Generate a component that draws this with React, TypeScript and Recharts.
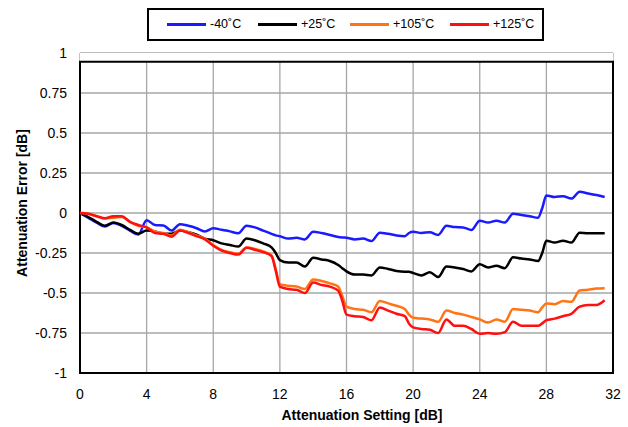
import React from "react";
import {
  LineChart,
  Line,
  XAxis,
  YAxis,
  CartesianGrid,
  Legend,
  ReferenceArea,
  Label,
} from "recharts";

const settings = [
  0, 0.5, 1, 1.5, 2, 2.5, 3, 3.5, 4, 4.5, 5, 5.5, 6, 6.5, 7, 7.5, 8, 8.5, 9, 9.5,
  10, 10.5, 11, 11.5, 11.75, 12, 12.5, 13, 13.5, 14, 14.5, 15, 15.5, 15.75, 16,
  16.5, 17, 17.5, 18, 18.5, 19, 19.5, 19.75, 20, 20.5, 21, 21.5, 22, 22.5, 23,
  23.5, 24, 24.5, 25, 25.5, 26, 26.5, 27, 27.5, 27.75, 28, 28.5, 29, 29.5, 30,
  30.5, 31, 31.5,
];

const errM40 = [
  0, -0.03, -0.06, -0.085, -0.062, -0.08, -0.11, -0.135, -0.045, -0.075, -0.078,
  -0.11, -0.07, -0.08, -0.095, -0.115, -0.095, -0.105, -0.115, -0.127, -0.08,
  -0.09, -0.11, -0.13, -0.14, -0.145, -0.16, -0.155, -0.165, -0.117, -0.125,
  -0.137, -0.15, -0.153, -0.155, -0.165, -0.16, -0.175, -0.123, -0.13, -0.14,
  -0.145, -0.125, -0.117, -0.125, -0.12, -0.137, -0.08, -0.088, -0.09, -0.106,
  -0.048, -0.06, -0.048, -0.06, -0.005, -0.012, -0.02, -0.03, 0.03, 0.11, 0.1,
  0.105, 0.09, 0.133, 0.122, 0.112, 0.1,
];

const errP25 = [
  0, -0.025, -0.055, -0.08, -0.06, -0.075, -0.105, -0.13, -0.11, -0.115, -0.13,
  -0.13, -0.11, -0.12, -0.135, -0.16, -0.17, -0.19, -0.2, -0.21, -0.16, -0.17,
  -0.19, -0.215, -0.25, -0.295, -0.31, -0.31, -0.335, -0.28, -0.29, -0.3,
  -0.325, -0.345, -0.365, -0.385, -0.385, -0.39, -0.34, -0.35, -0.362, -0.367,
  -0.367, -0.375, -0.39, -0.37, -0.4, -0.335, -0.34, -0.35, -0.365, -0.32,
  -0.34, -0.33, -0.345, -0.277, -0.285, -0.29, -0.3, -0.25, -0.173, -0.185,
  -0.173, -0.185, -0.123, -0.127, -0.127, -0.127,
];

const errP105 = [
  0, -0.005, -0.02, -0.035, -0.03, -0.025, -0.055, -0.08, -0.09, -0.115, -0.125,
  -0.14, -0.105, -0.12, -0.14, -0.16, -0.2, -0.23, -0.245, -0.255, -0.215,
  -0.225, -0.24, -0.265, -0.35, -0.445, -0.455, -0.46, -0.475, -0.415, -0.425,
  -0.44, -0.46, -0.52, -0.585, -0.6, -0.605, -0.62, -0.55, -0.565, -0.58, -0.6,
  -0.635, -0.655, -0.66, -0.665, -0.68, -0.61, -0.625, -0.635, -0.65, -0.665,
  -0.685, -0.665, -0.68, -0.6, -0.605, -0.61, -0.62, -0.59, -0.565, -0.57,
  -0.55, -0.555, -0.485, -0.48, -0.472, -0.47,
];

const errP125 = [
  0, -0.005, -0.02, -0.033, -0.02, -0.02, -0.055, -0.075, -0.09, -0.125, -0.13,
  -0.148, -0.11, -0.125, -0.145, -0.165, -0.205, -0.235, -0.25, -0.26, -0.217,
  -0.23, -0.245, -0.27, -0.36, -0.46, -0.475, -0.48, -0.5, -0.435, -0.45, -0.46,
  -0.485, -0.55, -0.635, -0.645, -0.65, -0.67, -0.59, -0.61, -0.63, -0.645,
  -0.69, -0.715, -0.725, -0.73, -0.75, -0.665, -0.705, -0.705, -0.725, -0.755,
  -0.75, -0.755, -0.745, -0.68, -0.705, -0.705, -0.705, -0.69, -0.67, -0.66,
  -0.645, -0.63, -0.585, -0.575, -0.575, -0.545,
];

const xTicks = [0, 4, 8, 12, 16, 20, 24, 28, 32];
const yTicks = [-1, -0.75, -0.5, -0.25, 0, 0.25, 0.5, 0.75, 1];

const seriesNames = ["-40˚C", "+25˚C", "+105˚C", "+125˚C"];
const seriesKeys = ["m40", "p25", "p105", "p125"];
const seriesColors = ["#1a1aff", "#000000", "#ff7416", "#ff1010"];

const data = settings.map((s, i) => ({
  s,
  m40: errM40[i],
  p25: errP25[i],
  p105: errP105[i],
  p125: errP125[i],
}));

const FONT = "'Liberation Sans', Arial, sans-serif";

const legendX = [167, 258, 350, 450];

const renderLegend = (props: any) => {
  const payload = [...(props.payload || [])].sort(
    (a: any, b: any) => seriesNames.indexOf(a.value) - seriesNames.indexOf(b.value)
  );
  return (
    <div
      style={{
        position: "absolute",
        left: 147,
        top: 8,
        width: 393,
        height: 29,
        border: "2px solid #000",
        background: "#fff",
        fontFamily: FONT,
        fontSize: 12.5,
        color: "#000",
      }}
    >
      {payload.map((p: any, i: number) => (
        <div key={i}>
          <div
            style={{
              position: "absolute",
              left: legendX[i] - 149,
              top: 13,
              width: 39,
              height: 2.5,
              background: p.color,
            }}
          />
          <div
            style={{
              position: "absolute",
              left: legendX[i] - 149 + 43,
              top: 5,
              lineHeight: "18px",
              whiteSpace: "nowrap",
            }}
          >
            {p.value}
          </div>
        </div>
      ))}
    </div>
  );
};

export default function App() {
  return (
    <div style={{ position: "absolute", left: 0, top: 0 }}>
      <LineChart
        width={628}
        height={427}
        data={data}
        margin={{ top: 53, right: 15, bottom: 24, left: 20 }}
      >
        <CartesianGrid stroke="#a6a6a6" strokeWidth={1.3} />
        <XAxis
          dataKey="s"
          type="number"
          domain={[0, 32]}
          ticks={xTicks}
          axisLine={false}
          tickLine={false}
          tickSize={0}
          tickMargin={16}
          height={30}
          tick={{ fill: "#000", fontSize: 14, fontFamily: FONT }}
        >
          <Label
            content={() => (
              <text
                x={362}
                y={415}
                textAnchor="middle"
                dominantBaseline="central"
                fontFamily={FONT}
                fontWeight="bold"
                fontSize={14}
                fill="#000"
              >
                Attenuation Setting [dB]
              </text>
            )}
          />
        </XAxis>
        <YAxis
          type="number"
          domain={[-1, 1]}
          ticks={yTicks}
          axisLine={false}
          tickLine={false}
          tickSize={0}
          tickMargin={13}
          width={60}
          tick={{ fill: "#000", fontSize: 14, fontFamily: FONT }}
        >
          <Label
            content={() => (
              <text
                x={22}
                y={203}
                textAnchor="middle"
                dominantBaseline="central"
                transform="rotate(-90 22 203)"
                fontFamily={FONT}
                fontWeight="bold"
                fontSize={14}
                fill="#000"
              >
                Attenuation Error [dB]
              </text>
            )}
          />
        </YAxis>
        <ReferenceArea
          x1={0}
          x2={32}
          y1={0.945}
          y2={1}
          fill="#ffffff"
          fillOpacity={1}
          stroke="none"
        />
        {seriesKeys.map((k, i) => (
          <Line
            key={k}
            dataKey={k}
            name={seriesNames[i]}
            type="monotone"
            stroke={seriesColors[i]}
            strokeWidth={2.5}
            dot={false}
            activeDot={false}
            isAnimationActive={false}
          />
        ))}
        <ReferenceArea
          x1={0}
          x2={32}
          y1={-1}
          y2={0.945}
          fill="none"
          fillOpacity={0}
          stroke="#000"
          strokeWidth={2}
        />
        <Legend
          layout="horizontal"
          verticalAlign="middle"
          align="center"
          content={renderLegend}
          wrapperStyle={{ position: "absolute", left: 0, top: 0, width: 0, height: 0 }}
        />
      </LineChart>
    </div>
  );
}
